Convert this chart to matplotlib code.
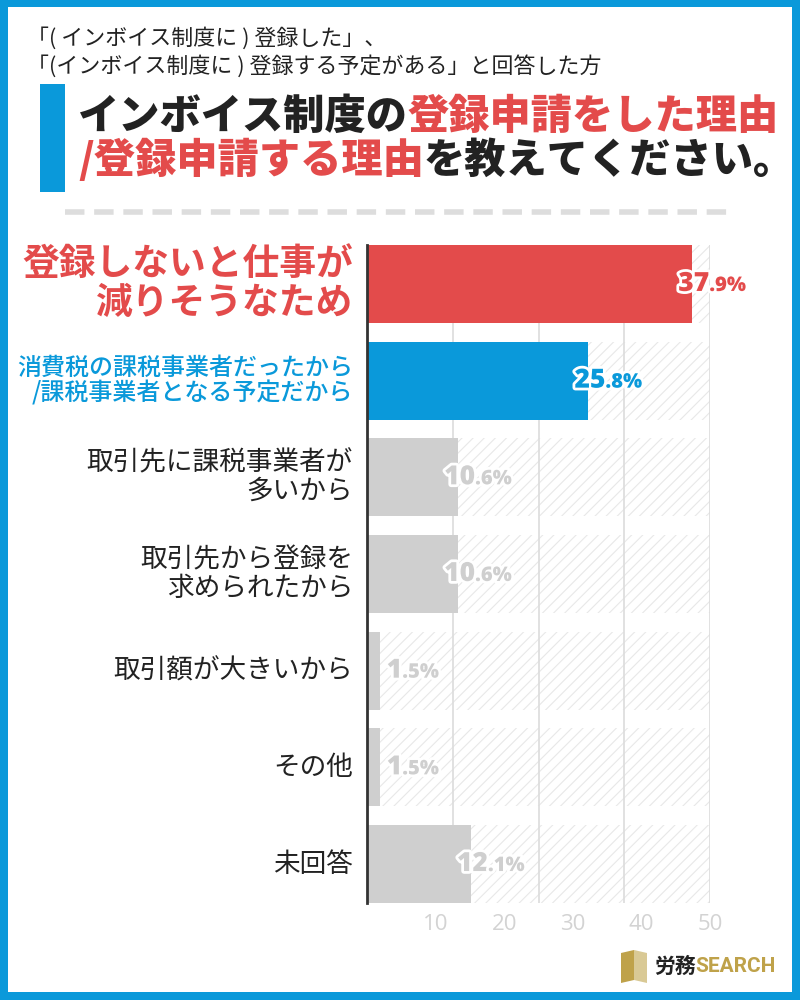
import matplotlib
matplotlib.use('Agg')
import matplotlib.pyplot as plt
import matplotlib.patheffects as pe
import matplotlib.transforms as mtrans
from matplotlib.offsetbox import TextArea, HPacker, AnnotationBbox
from matplotlib.patches import Rectangle, Polygon

# ---------------- data ----------------
categories = [
    '登録しないと仕事が\n減りそうなため',
    '消費税の課税事業者だったから\n/課税事業者となる予定だから',
    '取引先に課税事業者が\n多いから',
    '取引先から登録を\n求められたから',
    '取引額が大きいから',
    'その他',
    '未回答',
]
values = [37.9, 25.8, 10.6, 10.6, 1.5, 1.5, 12.1]
tick_labels = ['10', '20', '30', '40', '50']
grid_values = [10, 20, 30, 40]
axis_max = 40

subtitle_lines = ['「( インボイス制度に ) 登録した」、',
                  '「(インボイス制度に ) 登録する予定がある」と回答した方']
title_line1 = [('インボイス制度の', 'dark'), ('登録申請をした理由', 'red')]
title_line2 = [('/登録申請する理由', 'red'), ('を教えてください。', 'dark')]

# ---------------- style ----------------
RED = '#e34b4b'
BLUE = '#0a99da'
GRAY = '#cfcfcf'
DARK = '#222222'
GOLD = '#bfa24a'
JP = 'Noto Sans CJK JP'
plt.rcParams['font.family'] = [JP, 'DejaVu Sans']
plt.rcParams['hatch.linewidth'] = 0.8
plt.rcParams['lines.scale_dashes'] = False

bar_colors = [RED, BLUE] + [GRAY] * 5
label_colors = [RED, BLUE] + [DARK] * 5
label_sizes = [26.5, 17.3, 19.2, 19.2, 19.2, 19.2, 19.2]
label_weights = ['bold', 'medium', 'normal', 'normal', 'normal', 'normal', 'normal']
label_spacing = [1.1, 1.0, 1.08, 1.08, 1.1, 1.1, 1.1]

fig = plt.figure(figsize=(8, 10), dpi=100)

# background / decoration axes in pixel coordinates
bg = fig.add_axes([0, 0, 1, 1])
bg.set_xlim(0, 800)
bg.set_ylim(1000, 0)
bg.axis('off')

for (x, y, w, h) in [(0, 0, 8, 1000), (792, 0, 8, 1000), (0, 0, 800, 7), (0, 992, 800, 8)]:
    bg.add_patch(Rectangle((x, y), w, h, color=BLUE, lw=0))

bg.text(27, 38, subtitle_lines[0], fontsize=15.8, color=DARK, va='center', ha='left')
bg.text(27, 66, subtitle_lines[1], fontsize=15.8, color=DARK, va='center', ha='left')

bg.add_patch(Rectangle((40, 84), 25, 108, color=BLUE, lw=0))


def packed(parts, size, weight, y):
    cmap = {'dark': DARK, 'red': RED}
    areas = [TextArea(t, textprops=dict(fontsize=size, fontweight=weight, color=cmap[c]))
             for t, c in parts]
    box = HPacker(children=areas, pad=0, sep=0, align='baseline')
    ab = AnnotationBbox(box, (78, y), xycoords='data', box_alignment=(0, 0.5),
                        frameon=False, pad=0)
    bg.add_artist(ab)


packed(title_line1, 29.7, 'black', 117)
packed(title_line2, 29.7, 'black', 160)

bg.plot([65, 735], [212, 212], color='#dddddd', lw=4, dashes=(14, 7), solid_capstyle='butt',
        dash_capstyle='butt')

# logo
bg.add_patch(Polygon([(621, 953), (634, 950), (634, 980), (621, 983)], closed=True, color=GOLD, lw=0))
bg.add_patch(Polygon([(634, 950), (647, 953), (647, 983), (634, 980)], closed=True, color='#d9c995', lw=0))
logo = HPacker(children=[
    TextArea('労務', textprops=dict(fontsize=15, fontweight='bold', color=DARK)),
    TextArea('SEARCH', textprops=dict(fontsize=15, fontweight='bold', color=GOLD,
                                      family=['Roboto', 'DejaVu Sans'])),
], pad=0, sep=0, align='baseline')
bg.add_artist(AnnotationBbox(logo, (654, 966), xycoords='data', box_alignment=(0, 0.5),
                             frameon=False, pad=0))

# ---------------- chart ----------------
ax = fig.add_axes([367 / 800, 0.097, 343 / 800, 0.658])
n = len(values)
ypos = list(range(n))
bh = 0.806
ax.set_ylim(n - 1 + bh / 2, -bh / 2)
ax.set_xlim(0, axis_max)

ax.barh(ypos, [axis_max] * n, height=bh, color='white', edgecolor='#e8e8e8', lw=0,
        hatch='///', zorder=1)
for g in grid_values:
    ax.axvline(g, color='#dcdcdc', lw=1.2, zorder=2)
ax.barh(ypos, values, height=bh, color=bar_colors, lw=0, zorder=3)

for s in ['top', 'right', 'bottom']:
    ax.spines[s].set_visible(False)
ax.spines['left'].set_color('#333333')
ax.spines['left'].set_linewidth(2)
ax.spines['left'].set_zorder(5)
ax.set_yticks([])
tick_pos = [axis_max * (i + 1) / len(tick_labels) for i in range(len(tick_labels))]
ax.set_xticks(tick_pos)
ax.set_xticklabels(tick_labels, fontsize=16, color='#d3d3d3',
                   family=['Open Sans', 'DejaVu Sans'])
ax.tick_params(axis='x', length=0, pad=8)

# category labels
tr = mtrans.blended_transform_factory(fig.transFigure, ax.transData)
for i, cat in enumerate(categories):
    ax.text(353 / 800, i, cat, transform=tr, ha='right', va='center', multialignment='right',
            fontsize=label_sizes[i], fontweight=label_weights[i], color=label_colors[i],
            linespacing=label_spacing[i])

# value labels
stroke = [pe.withStroke(linewidth=4, foreground='white')]
for i, v in enumerate(values):
    s = f'{v:.1f}%'
    ip, rest = s.split('.')
    col = bar_colors[i]
    big = TextArea(ip, textprops=dict(fontsize=19, fontweight='heavy', color=col,
                                      family=['Open Sans', 'DejaVu Sans'], path_effects=stroke))
    small = TextArea('.' + rest, textprops=dict(fontsize=14.5, fontweight='heavy', color=col,
                                                family=['Open Sans', 'DejaVu Sans'], path_effects=stroke))
    box = HPacker(children=[big, small], pad=0, sep=0, align='baseline')
    x = max(v - 1.6, 2.3)
    ax.add_artist(AnnotationBbox(box, (x, i), xycoords='data', box_alignment=(0, 0.5),
                                 frameon=False, pad=0, zorder=6))

fig.savefig('out.png', dpi=100, facecolor='white')
